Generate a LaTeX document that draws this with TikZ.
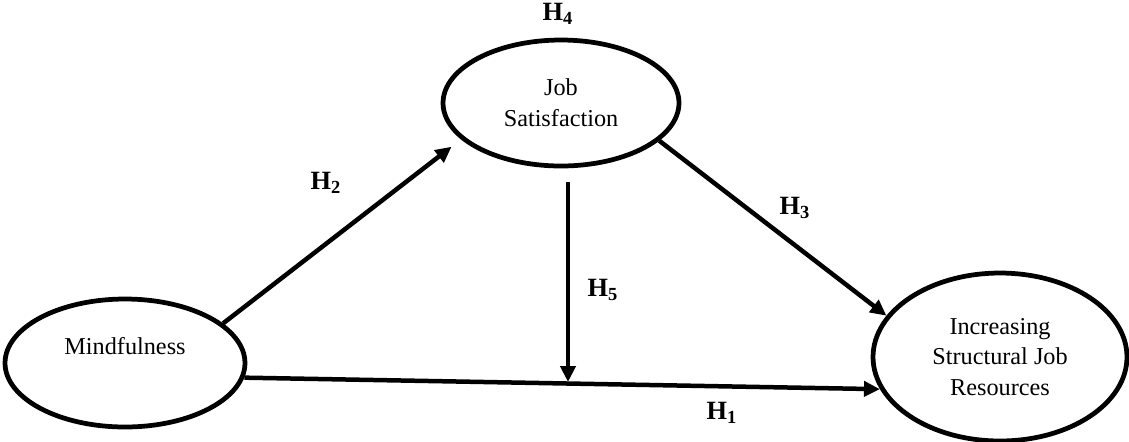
\documentclass[tikz,border=0pt]{standalone}
\usepackage{fontspec}
\setmainfont{Liberation Serif}
\usetikzlibrary{shapes.geometric,arrows.meta}

\tikzset{
  construct/.style={draw,ellipse,line width=0.095cm,align=center,inner sep=0pt,
    font=\fontsize{13.8}{17.5}\selectfont},
  hyp/.style={font=\fontsize{15}{16}\selectfont\bfseries},
  link/.style={line width=0.09cm,-{Triangle[length=0.32cm,width=0.3cm]}}
}

\begin{document}
\begin{tikzpicture}[x=0.02cm,y=-0.02cm]
        \useasboundingbox (0,0) rectangle (1129,441);

        % Constructs
        \node[construct,minimum width=4.8cm,minimum height=2.56cm,text depth=0.7cm] (mind) at (125,363) {Mindfulness};
        \node[construct,minimum width=4.72cm,minimum height=2.52cm] (job) at (561,103) {Job\\Satisfaction};
        \node[construct,minimum width=5.08cm,minimum height=3.36cm] (inc) at (1000,357) {Increasing\\Structural Job\\Resources};

        % Direct path
        \coordinate (h5end) at (568,382);
        \draw[link] (mind.-7) -- (inc.195);

        % Paths through job satisfaction
        \draw[link,shorten >=0.24cm] (mind.22) -- (job.200);
        \draw[link] (job.-21) -- (inc.160);
        \draw[link] ([shift={(7,14)}]job.south) -- (h5end);

        % Hypothesis labels
        \node[hyp] (h1) at (722,413) {H\textsubscript{1}};
        \node[hyp] (h2) at (326,183) {H\textsubscript{2}};
        \node[hyp] (h3) at (795,208) {H\textsubscript{3}};
        \node[hyp] (h4) at (558,14) {H\textsubscript{4}};
        \node[hyp] (h5) at (603,290) {H\textsubscript{5}};
      \end{tikzpicture}
\end{document}
